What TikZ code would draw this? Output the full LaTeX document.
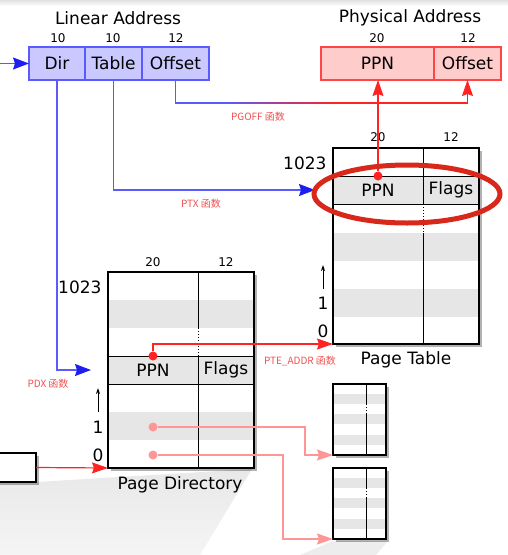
\documentclass[tikz,border=0pt]{standalone}
\usepackage{fontspec}
\setmainfont{DejaVu Sans}
\newfontfamily\cjk{Noto Sans CJK SC}
\usetikzlibrary{arrows.meta,shadows}

\definecolor{linfill}{RGB}{201,201,255}
\definecolor{linline}{RGB}{90,90,255}
\definecolor{lintip}{RGB}{30,30,240}
\definecolor{physfill}{RGB}{255,204,204}
\definecolor{physline}{RGB}{255,70,70}
\definecolor{ptrred}{RGB}{255,35,35}
\definecolor{ptrpale}{RGB}{255,150,150}
\definecolor{rowgray}{RGB}{230,230,230}
\definecolor{ringred}{RGB}{216,40,28}
\definecolor{fnred}{RGB}{240,80,80}

\begin{document}
\begin{tikzpicture}[x=1pt,y=-1pt,
	field/.style ={rectangle, inner sep=0, outer sep=0, minimum height=33, line width=1.3, font=\fontsize{17}{20}\selectfont},
	linfield/.style ={field, draw=linline, fill=linfill},
	physfield/.style ={field, draw=physline, fill=physfill},
	heading/.style ={font=\fontsize{17}{20}\selectfont},
	bits/.style ={font=\fontsize{12}{14}\selectfont},
	fn/.style ={text=fnred, font=\cjk\fontsize{10}{12}\selectfont},
	memtable/.style ={rectangle, draw, line width=1.4, fill=white, inner sep=0, outer sep=0,
		drop shadow={shadow xshift=2.5pt, shadow yshift=-2.5pt, opacity=0.3, fill=black}},
	entry/.style ={rectangle, draw, line width=1, fill=rowgray, inner sep=0, outer sep=0, minimum height=28, font=\fontsize{17}{20}\selectfont},
	stripe/.style ={fill=rowgray},
	ptrdot/.style ={circle, fill=ptrred, inner sep=0, minimum size=9},
	paledot/.style ={circle, fill=ptrpale, inner sep=0, minimum size=9},
	blueline/.style ={draw=linline, line width=1.2},
	bluearrow/.style ={blueline, -{Stealth[length=16pt,width=12pt,inset=2pt,color=lintip]}},
	redarrow/.style ={draw=ptrred, line width=1.2, -{Stealth[length=16pt,width=11pt,inset=2pt]}},
	palearrow/.style ={draw=ptrpale, line width=1.2, -{Stealth[length=16pt,width=11pt,inset=2pt]}},
	uparrow/.style ={line width=1, -{Stealth[length=6pt,width=4pt]}}]
	\useasboundingbox (0,0) rectangle (508,555);
	\shade[top color=black!12, bottom color=white] (0,0) rectangle (508,6);
	% projections behind the tables
	\shade[top color=black!9, bottom color=black!4] (0,482) -- (36,482) -- (252,469) -- (200,555) -- (0,555) -- cycle;
	\fill[black!7] (333,541) -- (388,541) -- (376,555) -- (300,555) -- cycle;

	% linear address
	\node[heading] (lin title) at (118,18) {Linear Address};
	\node[bits] (dir bits) at (58,38) {10};
	\node[bits] (tbl bits) at (113,38) {10};
	\node[bits] (off bits) at (176,38) {12};
	\node[linfield, minimum width=56] (dir) at (57,63.5) {Dir};
	\node[linfield, minimum width=57] (tbl) at (113.5,63.5) {Table};
	\node[linfield, minimum width=67] (off) at (175.5,63.5) {Offset};

	% physical address
	\node[heading] (phys title) at (410,18) {Physical Address};
	\node[bits] (ppn bits) at (377,38) {20};
	\node[bits] (poff bits) at (468,38) {12};
	\node[physfield, minimum width=113] (pppn) at (377.5,63.5) {PPN};
	\node[physfield, minimum width=67] (poff) at (467.5,63.5) {Offset};

	% page table
	\node[memtable, minimum width=146, minimum height=196] (pt) at (406,246) {};
	\fill[stripe] (333,233) rectangle (479,261);
	\fill[stripe] (333,289) rectangle (479,317);
	\draw[line width=1] (423,148)--(423,176);
	\draw[line width=1, dotted] (423,204)--(423,233);
	\draw[line width=1] (423,233)--(423,344);
	\node[entry, minimum width=90] (pt ppn) at (378,190) {PPN};
	\node[entry, minimum width=56] (pt flags) at (451,190) {Flags};
	\draw[line width=1.4] (pt.north west) rectangle (pt.south east);
	\node[bits] (pt bits a) at (378,137) {20};
	\node[bits] (pt bits b) at (451,137) {12};
	\node[heading, anchor=east] (pt top) at (330,163) {1023};
	\node[heading] (pt one) at (323,303) {1};
	\node[heading] (pt zero) at (323,331) {0};
	\node[heading] (pt name) at (406,360) {Page Table};
	\coordinate (pt up a) at (323,289);
	\coordinate (pt up b) at (323,265);
	\draw[uparrow] (pt up a)--(pt up b);

	% page directory
	\node[memtable, minimum width=146, minimum height=196] (pd) at (181,370) {};
	\fill[stripe] (108,300) rectangle (254,328);
	\fill[stripe] (108,412) rectangle (254,440);
	\draw[line width=1] (198,272)--(198,328);
	\draw[line width=1, dotted] (198,328)--(198,356);
	\draw[line width=1] (198,384)--(198,468);
	\node[entry, minimum width=90] (pd ppn) at (153,370) {PPN};
	\node[entry, minimum width=56] (pd flags) at (226,370) {Flags};
	\draw[line width=1.4] (pd.north west) rectangle (pd.south east);
	\node[bits] (pd bits a) at (153,262) {20};
	\node[bits] (pd bits b) at (226,262) {12};
	\node[heading, anchor=east] (pd top) at (105,287) {1023};
	\node[heading] (pd one) at (98,427) {1};
	\node[heading] (pd zero) at (98,455) {0};
	\node[heading] (pd name) at (180,485) {Page Directory};
	\coordinate (pd up a) at (98,412);
	\coordinate (pd up b) at (98,388);
	\draw[uparrow] (pd up a)--(pd up b);

	% small page tables
	\node[memtable, line width=1.3, minimum width=53, minimum height=71] (st1) at (359.5,419.5) {};
	\fill[stripe] (333,394) rectangle (386,404);
	\fill[stripe] (333,414) rectangle (386,424);
	\fill[stripe] (333,435) rectangle (386,445);
	\draw[line width=1] (366,384)--(366,404);
	\draw[line width=1, dotted] (366,404)--(366,414);
	\draw[line width=1] (366,414)--(366,455);
	\draw[line width=1.3] (st1.north west) rectangle (st1.south east);
	\node[memtable, line width=1.3, minimum width=53, minimum height=71] (st2) at (359.5,503.5) {};
	\fill[stripe] (333,478) rectangle (386,488);
	\fill[stripe] (333,498) rectangle (386,508);
	\fill[stripe] (333,519) rectangle (386,529);
	\draw[line width=1] (366,468)--(366,488);
	\draw[line width=1, dotted] (366,488)--(366,498);
	\draw[line width=1] (366,498)--(366,539);
	\draw[line width=1.3] (st2.north west) rectangle (st2.south east);

	% register box at the left
	\node[memtable, line width=1.3, minimum width=42, minimum height=29] (cr) at (15,467.5) {};

	% index lines
	\coordinate (lin in) at (0,63.5);
	\coordinate (pdx end) at (91,370);
	\coordinate (ptx end) at (315,190);
	\coordinate (pg a) at (225,103);
	\coordinate (pg b) at (335,103);
	\draw[bluearrow] (lin in)--(dir);
	\draw[bluearrow] (dir.south) |- (pdx end);
	\draw[bluearrow] (tbl.south) |- (ptx end);
	\draw[blueline] (off.south) |- (pg a);
	\shade[left color=linline, right color=ptrred] (225,102.4) rectangle (335,103.6);
	\draw[redarrow] (pg b) -| (poff.south);
	\node[fn] (pgoff fn) at (258,117) {PGOFF 函数};
	\node[fn] (ptx fn) at (201,204) {PTX 函数};
	\node[fn] (pdx fn) at (48,384) {PDX 函数};
	\node[fn] (pte fn) at (300,361) {PTE\_ADDR 函数};

	% pointers
	\node[ptrdot] (pt dot) at (378,176) {};
	\node[ptrdot] (pd dot) at (153,356) {};
	\draw[redarrow] (pt dot) -- (pt dot |- pppn.south);
	\draw[redarrow] (pd dot) |- (pt.south west);
	\draw[redarrow] (cr.east) -- (pd.south west);
	\coordinate (bend a) at (305,427);
	\coordinate (bend b) at (283,455);
	\node[paledot] (pd one dot) at (153,427) {};
	\node[paledot] (pd zero dot) at (153,455) {};
	\draw[palearrow] (pd one dot) -- (bend a) |- (st1.south west);
	\draw[palearrow] (pd zero dot) -- (bend b) |- (st2.south west);

	% highlight ring
	\draw[ringred, line width=5] (407,194) ellipse [x radius=93, y radius=29];
\end{tikzpicture}
\end{document}
